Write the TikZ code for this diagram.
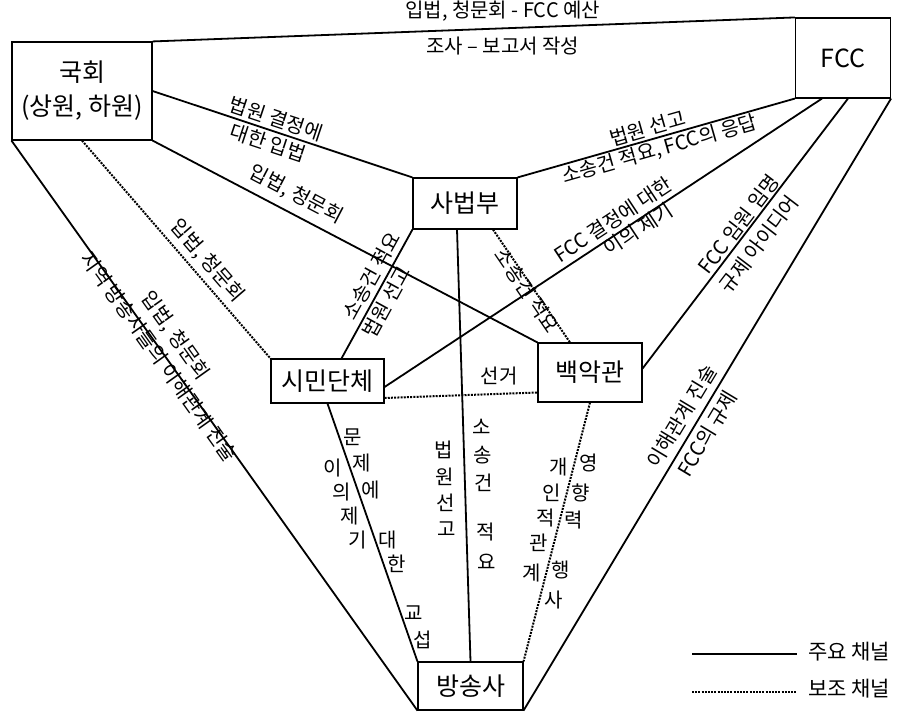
\documentclass[tikz,border=0pt]{standalone}
\usepackage{fontspec}
\setmainfont{Noto Sans CJK KR}
\usetikzlibrary{calc}

\begin{document}
\begin{tikzpicture}[x=1pt, y=1pt,
    box/.style={rectangle, draw, line width=1.1pt, inner sep=2pt, align=center, font=\fontsize{25}{34}\selectfont},
    lbl/.style={font=\fontsize{20}{25}\selectfont, inner sep=1pt, align=center},
    mainch/.style={line width=1.8pt},
    auxch/.style={line width=2pt, dash pattern=on 2pt off 1.2pt}
]
\useasboundingbox (0,0) rectangle (904,713);

% Actors
\node[box, minimum width=140pt, minimum height=98pt] (congress) at (82,622) {국회\\(상원, 하원)};
\node[box, minimum width=95pt, minimum height=80pt] (fcc) at (843,655) {FCC};
\node[box, minimum width=104pt, minimum height=51pt] (court) at (465,509.5) {사법부};
\node[box, minimum width=113pt, minimum height=44pt] (civic) at (327.5,332) {시민단체};
\node[box, minimum width=104pt, minimum height=59pt] (wh) at (590,340.5) {백악관};
\node[box, minimum width=105pt, minimum height=48pt] (bcast) at (470.5,27) {방송사};

% Channels from Congress
\draw[mainch] (congress.north east) -- (fcc.north west)
    node[lbl, pos=0.545, above=5pt] {입법, 청문회 - FCC 예산}
    node[lbl, pos=0.545, below=7pt] {조사 – 보고서 작성};
\draw[mainch] (congress.east) -- (court.north west)
    node[lbl, pos=0.46, sloped] {법원 결정에\\대한 입법};
\draw[mainch] (congress.south east) -- (wh.north west)
    node[lbl, pos=0.35, sloped, above=7pt] {입법, 청문회};
\draw[auxch] (congress.south) -- (civic.north west)
    node[lbl, pos=0.60, sloped, above=4pt] {입법, 청문회};
\draw[mainch] (congress.south west) -- (bcast.south west)
    node[lbl, pos=0.363, sloped, above=8pt] {입법, 청문회}
    node[lbl, pos=0.374, sloped, below=-6pt] {지역 방송사들의 이해관계 진술};

% Channels from FCC
\draw[mainch] (court.north east) -- (fcc.south west)
    node[lbl, pos=0.48, sloped, above=1pt] {법원 선고}
    node[lbl, pos=0.50, sloped, below=0pt] {소송건 적요, FCC의 응답};
\draw[mainch] ([yshift=-6pt]civic.east) -- ([xshift=-21pt]fcc.south)
    node[lbl, pos=0.54, sloped, above=3pt] {FCC 결정에 대한}
    node[lbl, pos=0.57, sloped, below=-3pt] {이의 제기};
\draw[mainch] ([yshift=4pt]wh.east) -- ([xshift=5pt]fcc.south)
    node[lbl, pos=0.51, sloped, above=0pt] {FCC 임원 임명}
    node[lbl, pos=0.50, sloped, below=6pt] {규제 아이디어};
\draw[mainch] (bcast.south east) -- (fcc.south east)
    node[lbl, pos=0.467, sloped, above=5pt] {이해관계 진술}
    node[lbl, pos=0.465, sloped, below=4pt] {FCC의 규제};

% Channels from the courts
\draw[mainch] ([xshift=14pt]civic.north) -- (court.south west)
    node[lbl, pos=0.59, sloped, above=3pt] {소송건 적요}
    node[lbl, pos=0.486, sloped, below=1pt] {법원 선고};
\draw[mainch] ([xshift=-8pt]court.south) -- (bcast.north);
\draw[auxch] ([xshift=28pt]court.south) -- ([xshift=-20pt]wh.north)
    node[lbl, pos=0.51, sloped, below=-5pt] {소송건 적요};

% Civic groups, White House, broadcasters
\draw[auxch] ([yshift=-17pt]civic.east) -- ([yshift=-20pt]wh.west)
    node[lbl, pos=0.75, above=7pt] {선거};
\draw[mainch] (civic.south) -- (bcast.north west);
\draw[auxch] (wh.south) -- (bcast.north east);

% stacked labels on the steep channels
\foreach \g/\p [count=\i] in {법/0.510, 원/0.573, 선/0.633, 고/0.693}
  \node[lbl] (verdict\i) at ($([xshift=-8pt]court.south)!\p!(bcast.north)+(-20,0)$) {\g};
\foreach \g/\p [count=\i] in {소/0.457, 송/0.522, 건/0.587, 적/0.700, 요/0.769}
  \node[lbl] (brief\i) at ($([xshift=-8pt]court.south)!\p!(bcast.north)+(19,0)$) {\g};
\foreach \g/\p [count=\i] in {이/0.251, 의/0.344, 제/0.436, 기/0.529}
  \node[lbl] (object\i) at ($(civic.south)!\p!(bcast.north west)+(-17,0)$) {\g};
\foreach \g/\p [count=\i] in {문/0.131, 제/0.232, 에/0.336, 대/0.529, 한/0.622, 교/0.811, 섭/0.915}
  \node[lbl] (nego\i) at ($(civic.south)!\p!(bcast.north west)+(13,0)$) {\g};
\foreach \g/\p [count=\i] in {개/0.250, 인/0.350, 적/0.446, 관/0.542, 계/0.658}
  \node[lbl] (personal\i) at ($(wh.south)!\p!(bcast.north east)+(-15,0)$) {\g};
\foreach \g/\p [count=\i] in {영/0.235, 향/0.350, 력/0.454, 행/0.646, 사/0.762}
  \node[lbl] (influence\i) at ($(wh.south)!\p!(bcast.north east)+(14,0)$) {\g};

% Legend
\coordinate (leg1a) at (692,59);
\coordinate (leg1b) at (797,59);
\coordinate (leg2a) at (692,21);
\coordinate (leg2b) at (797,21);
\draw[mainch] (leg1a) -- (leg1b);
\draw[auxch] (leg2a) -- (leg2b);
\node[lbl, font=\fontsize{21}{24}\selectfont, anchor=west] (legmain) at ([xshift=10pt,yshift=2pt]leg1b) {주요 채널};
\node[lbl, font=\fontsize{21}{24}\selectfont, anchor=west] (legaux) at ([xshift=10pt,yshift=3pt]leg2b) {보조 채널};

\end{tikzpicture}
\end{document}
